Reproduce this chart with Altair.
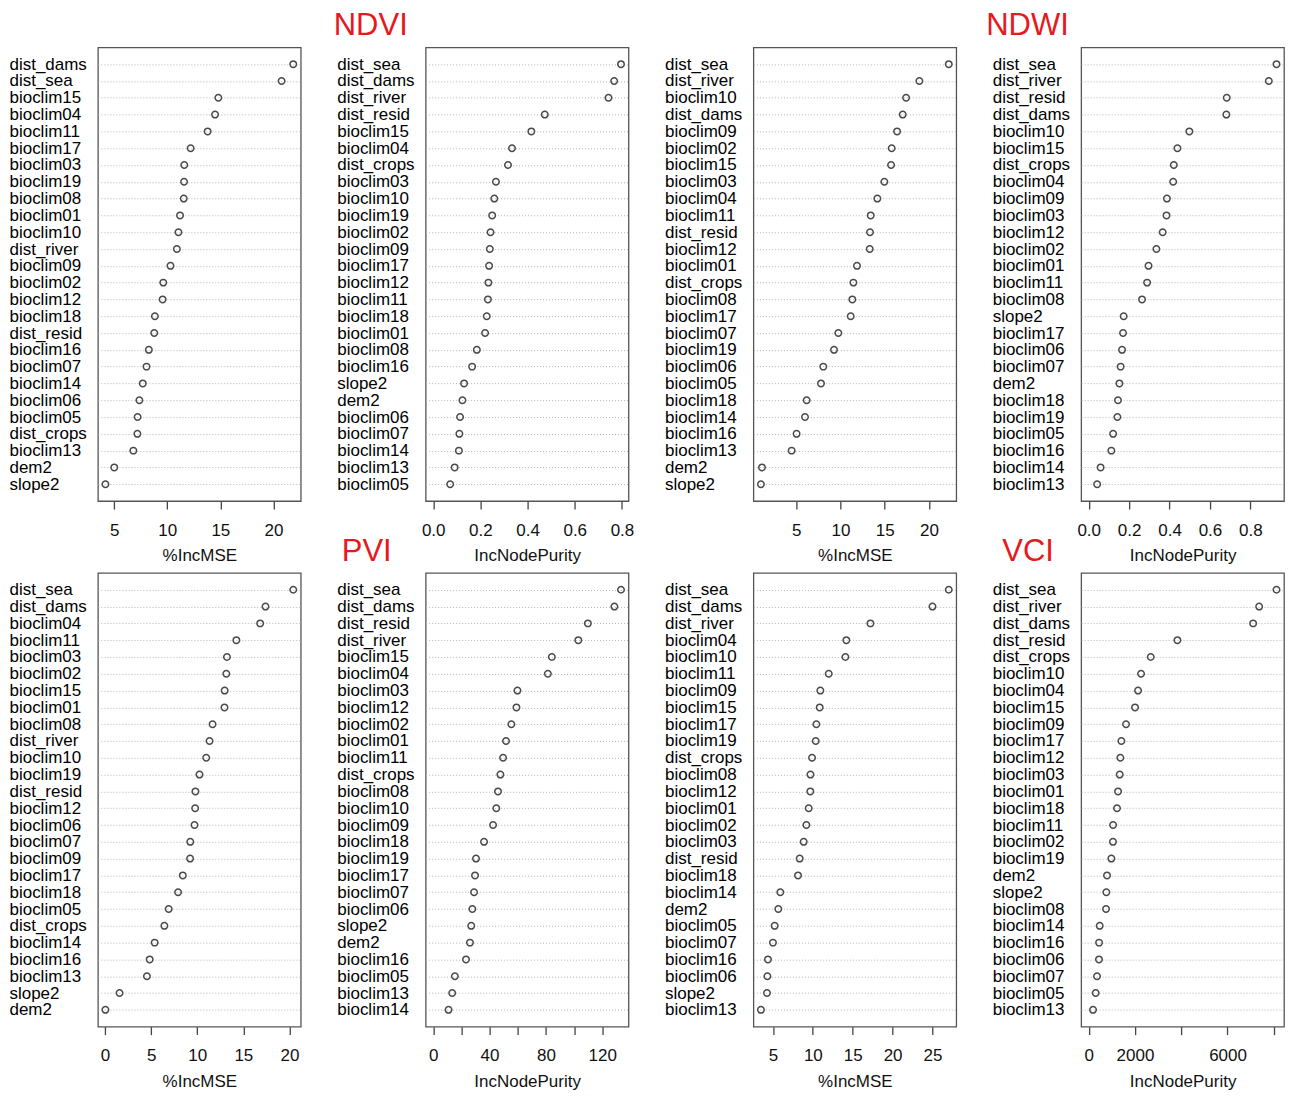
import altair as alt
import pandas as pd

FONT = "Liberation Sans"

# ---------------- data ----------------
names1 = ["dist_dams", "dist_sea", "bioclim15", "bioclim04", "bioclim11", "bioclim17", "bioclim03",
          "bioclim19", "bioclim08", "bioclim01", "bioclim10", "dist_river", "bioclim09", "bioclim02",
          "bioclim12", "bioclim18", "dist_resid", "bioclim16", "bioclim07", "bioclim14", "bioclim06",
          "bioclim05", "dist_crops", "bioclim13", "dem2", "slope2"]
vals1 = [21.87, 20.77, 14.81, 14.5, 13.8, 12.2, 11.6, 11.58, 11.55, 11.2, 11.05, 10.9, 10.3, 9.62,
         9.56, 8.83, 8.77, 8.26, 8.04, 7.69, 7.37, 7.2, 7.18, 6.8, 5.0, 4.17]

names2 = ["dist_sea", "dist_dams", "dist_river", "dist_resid", "bioclim15", "bioclim04", "dist_crops",
          "bioclim03", "bioclim10", "bioclim19", "bioclim02", "bioclim09", "bioclim17", "bioclim12",
          "bioclim11", "bioclim18", "bioclim01", "bioclim08", "bioclim16", "slope2", "dem2",
          "bioclim06", "bioclim07", "bioclim14", "bioclim13", "bioclim05"]
vals2 = [0.796, 0.767, 0.743, 0.473, 0.416, 0.334, 0.317, 0.266, 0.259, 0.250, 0.243, 0.240, 0.237,
         0.234, 0.232, 0.227, 0.220, 0.185, 0.165, 0.131, 0.124, 0.114, 0.111, 0.109, 0.091, 0.072]

names3 = ["dist_sea", "dist_river", "bioclim10", "dist_dams", "bioclim09", "bioclim02", "bioclim15",
          "bioclim03", "bioclim04", "bioclim11", "dist_resid", "bioclim12", "bioclim01", "dist_crops",
          "bioclim08", "bioclim17", "bioclim07", "bioclim19", "bioclim06", "bioclim05", "bioclim18",
          "bioclim14", "bioclim16", "bioclim13", "dem2", "slope2"]
vals3 = [22.23, 18.91, 17.41, 17.03, 16.39, 15.78, 15.71, 14.95, 14.16, 13.41, 13.33, 13.3, 11.86,
         11.45, 11.33, 11.15, 9.75, 9.26, 8.05, 7.79, 6.17, 5.98, 5.03, 4.47, 1.12, 1.0]

names4 = ["dist_sea", "dist_river", "dist_resid", "dist_dams", "bioclim10", "bioclim15", "dist_crops",
          "bioclim04", "bioclim09", "bioclim03", "bioclim12", "bioclim02", "bioclim01", "bioclim11",
          "bioclim08", "slope2", "bioclim17", "bioclim06", "bioclim07", "dem2", "bioclim18",
          "bioclim19", "bioclim05", "bioclim16", "bioclim14", "bioclim13"]
vals4 = [0.929, 0.891, 0.683, 0.681, 0.498, 0.439, 0.421, 0.418, 0.387, 0.385, 0.366, 0.335, 0.296,
         0.289, 0.264, 0.173, 0.170, 0.165, 0.158, 0.152, 0.145, 0.142, 0.121, 0.112, 0.059, 0.042]

names5 = ["dist_sea", "dist_dams", "bioclim04", "bioclim11", "bioclim03", "bioclim02", "bioclim15",
          "bioclim01", "bioclim08", "dist_river", "bioclim10", "bioclim19", "dist_resid", "bioclim12",
          "bioclim06", "bioclim07", "bioclim09", "bioclim17", "bioclim18", "bioclim05", "dist_crops",
          "bioclim14", "bioclim16", "bioclim13", "slope2", "dem2"]
vals5 = [20.41, 17.4, 16.82, 14.24, 13.22, 13.15, 12.97, 12.95, 11.66, 11.33, 10.97, 10.24, 9.8, 9.77,
         9.7, 9.24, 9.22, 8.43, 7.92, 6.9, 6.43, 5.38, 4.84, 4.54, 1.57, 0.04]

names6 = ["dist_sea", "dist_dams", "dist_resid", "dist_river", "bioclim15", "bioclim04", "bioclim03",
          "bioclim12", "bioclim02", "bioclim01", "bioclim11", "dist_crops", "bioclim08", "bioclim10",
          "bioclim09", "bioclim18", "bioclim19", "bioclim17", "bioclim07", "bioclim06", "slope2",
          "dem2", "bioclim16", "bioclim05", "bioclim13", "bioclim14"]
vals6 = [133.3, 128.6, 109.8, 103.0, 84.2, 81.4, 59.8, 59.1, 55.5, 51.7, 49.6, 47.7, 46.0, 44.8, 42.5,
         36.1, 30.4, 29.7, 29.0, 27.8, 27.0, 26.1, 23.3, 15.4, 13.5, 10.9]

names7 = ["dist_sea", "dist_dams", "dist_river", "bioclim04", "bioclim10", "bioclim11", "bioclim09",
          "bioclim15", "bioclim17", "bioclim19", "dist_crops", "bioclim08", "bioclim12", "bioclim01",
          "bioclim02", "bioclim03", "dist_resid", "bioclim18", "bioclim14", "dem2", "bioclim05",
          "bioclim07", "bioclim16", "bioclim06", "slope2", "bioclim13"]
vals7 = [27.04, 25.0, 17.22, 14.2, 14.08, 11.99, 10.94, 10.86, 10.44, 10.36, 9.9, 9.7, 9.68, 9.48,
         9.19, 8.85, 8.35, 8.14, 5.92, 5.67, 5.21, 5.0, 4.37, 4.3, 4.25, 3.49]

names8 = ["dist_sea", "dist_river", "dist_dams", "dist_resid", "dist_crops", "bioclim10", "bioclim04",
          "bioclim15", "bioclim09", "bioclim17", "bioclim12", "bioclim03", "bioclim01", "bioclim18",
          "bioclim11", "bioclim02", "bioclim19", "dem2", "slope2", "bioclim08", "bioclim14",
          "bioclim16", "bioclim06", "bioclim07", "bioclim05", "bioclim13"]
vals8 = [8115, 7366, 7106, 3834, 2681, 2263, 2133, 2003, 1614, 1413, 1369, 1341, 1269, 1225, 1055,
         1050, 980, 793, 764, 750, 476, 450, 445, 360, 303, 188]

ticks_mse_a = [5, 10, 15, 20]
ticks_mse_b = [0, 5, 10, 15, 20]
ticks_mse_c = [5, 10, 15, 20, 25]
ticks_inp_a = [0.0, 0.2, 0.4, 0.6, 0.8]
ticks_inp_pvi = [0, 20, 40, 60, 80, 100, 120]
ticks_inp_vci = [0, 2000, 4000, 6000, 8000]

PANEL_W = 203
PANEL_H = 454


def panel(names, vals, measure, ticks, fmt, label_expr=None, title=None, tdx=0):
    df = pd.DataFrame({"var": names, "val": vals})
    lo = 0 if measure == "IncNodePurity" else min(vals)
    hi = max(vals)
    r = hi - lo
    dom = [lo - 0.04 * r, hi + 0.04 * r]
    axis_kw = dict(values=ticks, format=fmt, title=measure, grid=False, domain=False,
                   tickSize=8, tickColor="#444", tickWidth=1.3, labelPadding=13,
                   labelFontSize=17, labelFont=FONT, labelColor="#111", labelOverlap=False,
                   titleFontSize=17, titleFont=FONT, titleFontWeight="normal",
                   titleColor="#111", titlePadding=10)
    if label_expr:
        axis_kw["labelExpr"] = label_expr
    x = alt.X("val:Q", scale=alt.Scale(domain=dom, nice=False, zero=False),
              axis=alt.Axis(**axis_kw))
    y = alt.Y("var:N", sort=names, scale=alt.Scale(type="point", padding=1),
              axis=alt.Axis(title=None, ticks=False, tickSize=0, domain=False, grid=True,
                            gridDash=[1, 2], gridColor="#b5b5b5", gridWidth=1,
                            labelAlign="left", labelPadding=89, labelFontSize=17,
                            labelFont=FONT, labelColor="#000", labelLimit=300,
                            labelBaseline="middle"))
    ch = alt.Chart(df).mark_point(filled=False, size=42, strokeWidth=1.5, color="#4a4a4a",
                                  opacity=1).encode(x=x, y=y)
    props = dict(width=PANEL_W, height=PANEL_H)
    if title:
        props["title"] = alt.TitleParams(title, anchor="start", frame="group", dx=tdx,
                                         fontSize=31, color="#e5191e", font=FONT,
                                         fontWeight="normal", offset=5)
    return ch.properties(**props)


p1 = panel(names1, vals1, "%IncMSE", ticks_mse_a, "d")
p2 = panel(names2, vals2, "IncNodePurity", ticks_inp_a, ".1f", title="NDVI", tdx=-92)
p3 = panel(names3, vals3, "%IncMSE", ticks_mse_a, "d")
p4 = panel(names4, vals4, "IncNodePurity", ticks_inp_a, ".1f", title="NDWI", tdx=-95)
p5 = panel(names5, vals5, "%IncMSE", ticks_mse_b, "d")
p6 = panel(names6, vals6, "IncNodePurity", ticks_inp_pvi, "d",
           label_expr="datum.value % 40 == 0 ? datum.label : ''", title="PVI", tdx=-84)
p7 = panel(names7, vals7, "%IncMSE", ticks_mse_c, "d")
p8 = panel(names8, vals8, "IncNodePurity", ticks_inp_vci, "d",
           label_expr="(datum.value == 4000 || datum.value == 8000) ? '' : datum.label",
           title="VCI", tdx=-79)

chart = alt.concat(p1, p2, p3, p4, p5, p6, p7, p8, columns=4, bounds="flush",
                   spacing={"row": 72, "column": 125})
chart = chart.properties(
    padding={"left": 8, "top": 9, "right": 5, "bottom": 5},
    background="white",
).configure_view(stroke="#555", strokeWidth=1.3)

chart.save("out.html", embed_options={"renderer": "svg", "actions": False})
